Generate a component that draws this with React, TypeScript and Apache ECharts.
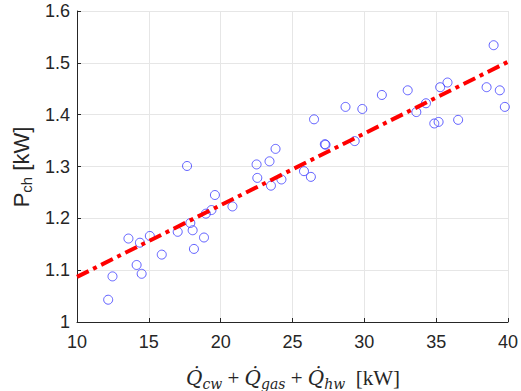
import React, { useEffect, useRef } from "react";
import * as echarts from "echarts";

const xVals = [12.17, 12.47, 13.58, 14.15, 14.38, 14.5, 15.07, 15.9, 17.01, 17.66, 17.89, 18.05, 18.14, 18.84, 18.97, 19.36, 19.6, 20.82, 22.5, 22.55, 23.4, 23.5, 23.82, 24.23, 25.8, 26.28, 26.5, 27.25, 27.3, 28.69, 29.33, 29.86, 31.22, 33.02, 33.62, 34.29, 34.87, 35.17, 35.28, 35.79, 36.53, 38.51, 39.0, 39.43, 39.78];
const yVals = [1.043, 1.088, 1.161, 1.11, 1.153, 1.093, 1.166, 1.13, 1.174, 1.301, 1.191, 1.177, 1.141, 1.163, 1.209, 1.216, 1.245, 1.223, 1.304, 1.278, 1.31, 1.263, 1.334, 1.275, 1.291, 1.28, 1.391, 1.343, 1.342, 1.415, 1.349, 1.411, 1.438, 1.447, 1.405, 1.422, 1.383, 1.386, 1.453, 1.462, 1.39, 1.453, 1.534, 1.447, 1.415];
const fitX = [10, 40];
const fitY = [1.087, 1.502];

export default function App() {
  const ref = useRef<HTMLDivElement>(null);
  useEffect(() => {
    if (!ref.current) return;
    const chart = echarts.init(ref.current, undefined, { renderer: "svg" });
    const axisColor = "#262626";
    chart.setOption({
      animation: false,
      backgroundColor: "#ffffff",
      grid: { left: 77, right: 10, top: 11, bottom: 69 },
      xAxis: {
        type: "value",
        min: 10,
        max: 40,
        interval: 5,
        axisLine: { show: true, onZero: false, lineStyle: { color: axisColor, width: 1 } },
        axisTick: { show: true, inside: true, length: 4, lineStyle: { color: axisColor } },
        axisLabel: { color: axisColor, fontFamily: "Liberation Sans", fontSize: 18, margin: 11 },
        splitLine: { show: true, lineStyle: { color: "#e6e6e6", width: 1 } },
      },
      yAxis: {
        type: "value",
        min: 1,
        max: 1.6,
        interval: 0.1,
        axisLine: { show: true, onZero: false, lineStyle: { color: axisColor, width: 1 } },
        axisTick: { show: true, inside: true, length: 4, lineStyle: { color: axisColor } },
        axisLabel: { color: axisColor, fontFamily: "Liberation Sans", fontSize: 18, margin: 7 },
        splitLine: { show: true, lineStyle: { color: "#e6e6e6", width: 1 } },
      },
      series: [
        {
          type: "scatter",
          data: xVals.map((x, i) => [x, yVals[i]]),
          symbol: "circle",
          symbolSize: 9,
          itemStyle: { color: "rgba(0,0,0,0)", borderColor: "#3b3bff", borderWidth: 1 },
          z: 2,
        },
        {
          type: "line",
          data: fitX.map((x, i) => [x, fitY[i]]),
          showSymbol: false,
          lineStyle: { color: "#ff0000", width: 4, type: [13, 5, 4, 5] },
          z: 3,
        },
      ],
      graphic: [
        {
          type: "text",
          x: 293,
          y: 378,
          style: {
            text: "{q|Q\u0307}{s|cw}{t| + }{q|Q\u0307}{s|gas}{t| + }{q|Q\u0307}{s|hw}{t|  [kW]}",
            align: "center",
            verticalAlign: "middle",
            fill: axisColor,
            rich: {
              q: { fontFamily: "DejaVu Serif", fontStyle: "italic", fontSize: 20, lineHeight: 25, verticalAlign: "middle", fill: axisColor },
              s: { fontFamily: "DejaVu Serif", fontStyle: "italic", fontSize: 14, lineHeight: 14, verticalAlign: "bottom", fill: axisColor },
              t: { fontFamily: "Liberation Serif", fontSize: 21, lineHeight: 25, verticalAlign: "middle", fill: axisColor },
            },
          },
        },
        {
          type: "text",
          x: 21,
          y: 167,
          rotation: Math.PI / 2,
          style: {
            text: "{a|P}{b|ch}{a| [kW]}",
            align: "center",
            verticalAlign: "middle",
            fill: axisColor,
            rich: {
              a: { fontFamily: "Liberation Sans", fontSize: 22, lineHeight: 26, verticalAlign: "middle", fill: axisColor },
              b: { fontFamily: "Liberation Sans", fontSize: 15, lineHeight: 15, verticalAlign: "bottom", fill: axisColor },
            },
          },
        },
      ],
    });
    return () => chart.dispose();
  }, []);
  return <div ref={ref} style={{ position: "fixed", left: 0, top: 0, width: 521, height: 391 }} />;
}
